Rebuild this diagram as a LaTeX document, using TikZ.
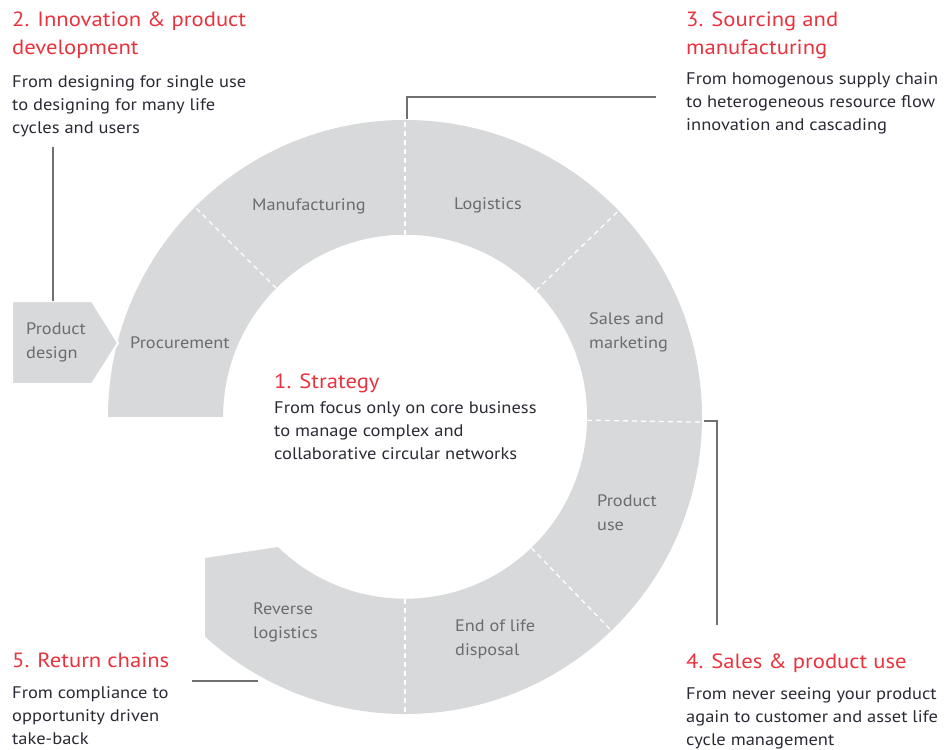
\documentclass[tikz,border=0pt]{standalone}
\usepackage{fontspec}
\setmainfont[FakeStretch=1.1]{PT Sans}
\definecolor{ringgray}{HTML}{D8D9DA}
\definecolor{lblgray}{HTML}{6B6C6F}
\definecolor{linegray}{HTML}{707070}
\definecolor{hred}{HTML}{E8333E}
\definecolor{txt}{HTML}{2A2A34}
\begin{document}
\begin{tikzpicture}[x=1pt,y=-1pt,
  head/.style={anchor=base west, inner sep=0pt, align=left, text=hred, font=\fontsize{20.6}{28}\selectfont},
  body/.style={anchor=base west, inner sep=0pt, align=left, text=txt, font=\fontsize{16.8}{23}\selectfont},
  lbl/.style={anchor=base west, inner sep=0pt, align=left, text=lblgray, font=\fontsize{16.6}{23.5}\selectfont},
  conn/.style={draw=linegray, line width=2.5pt},
  sepline/.style={draw=white, line width=1.3pt, dash pattern=on 5pt off 4pt}]
\useasboundingbox (0,0) rectangle (944,749);

% ring
\begin{scope}[shift={(405,417)}, y=1pt]
  \fill[ringgray] (180:297) arc[start angle=180, end angle=-132.3, radius=297]
    -- (-200,-141) -- (-127,-130)
    arc[start angle=-134.3, end angle=180, radius=182] -- cycle;
  \foreach \a in {135,90,44,-1,-46,-90}
    \draw[sepline] (\a:182) -- (\a:297);
\end{scope}

% product design arrow
\fill[ringgray, draw=white, line width=2pt] (12,301) -- (92,301) -- (118,343) -- (92,384) -- (12,384) -- cycle;
\node[lbl] (pd) at (26,358) {Product\\design};

% segment labels (anchor = baseline of last line)
\node[lbl] (proc) at (130,348) {Procurement};
\node[lbl] (manu) at (252,210) {Manufacturing};
\node[lbl] (logi) at (454,209) {Logistics};
\node[lbl] (sales) at (589,348) {Sales and\\marketing};
\node[lbl] (puse) at (597,530) {Product\\use};
\node[lbl] (eol) at (455,655) {End of life\\disposal};
\node[lbl] (rev) at (253,638) {Reverse\\logistics};

% text blocks (anchor = baseline of last line)
\node[head] (h2) at (12,55) {2. Innovation \& product\\development};
\node[body] (b2) at (12,133) {From designing for single use\\to designing for many life\\cycles and users};
\node[head] (h3) at (686,55) {3. Sourcing and\\manufacturing};
\node[body] (b3) at (686,131) {From homogenous supply chain\\to heterogeneous resource flow\\innovation and cascading};
\node[head] (h1) at (274,388) {1. Strategy};
\node[body] (b1) at (274,459) {From focus only on core business\\to manage complex and\\collaborative circular networks};
\node[head] (h4) at (686,668) {4. Sales \& product use};
\node[body] (b4) at (686,745) {From never seeing your product\\again to customer and asset life\\cycle management};
\node[head] (h5) at (12,667) {5. Return chains};
\node[body] (b5) at (12,744) {From compliance to\\opportunity driven\\take-back};

% connectors
\coordinate (c2a) at (53,147);
\coordinate (c2b) at (53,301);
\draw[conn] (c2a) -- (c2b);
\coordinate (c3a) at (407,119);
\coordinate (c3b) at (656,97);
\draw[conn] (c3a) |- (c3b);
\coordinate (c4a) at (704,421);
\coordinate (c4b) at (717,625);
\draw[conn] (c4a) -| (c4b);
\coordinate (c5a) at (192,681);
\coordinate (c5b) at (258,681);
\draw[conn] (c5a) -- (c5b);
\end{tikzpicture}
\end{document}
